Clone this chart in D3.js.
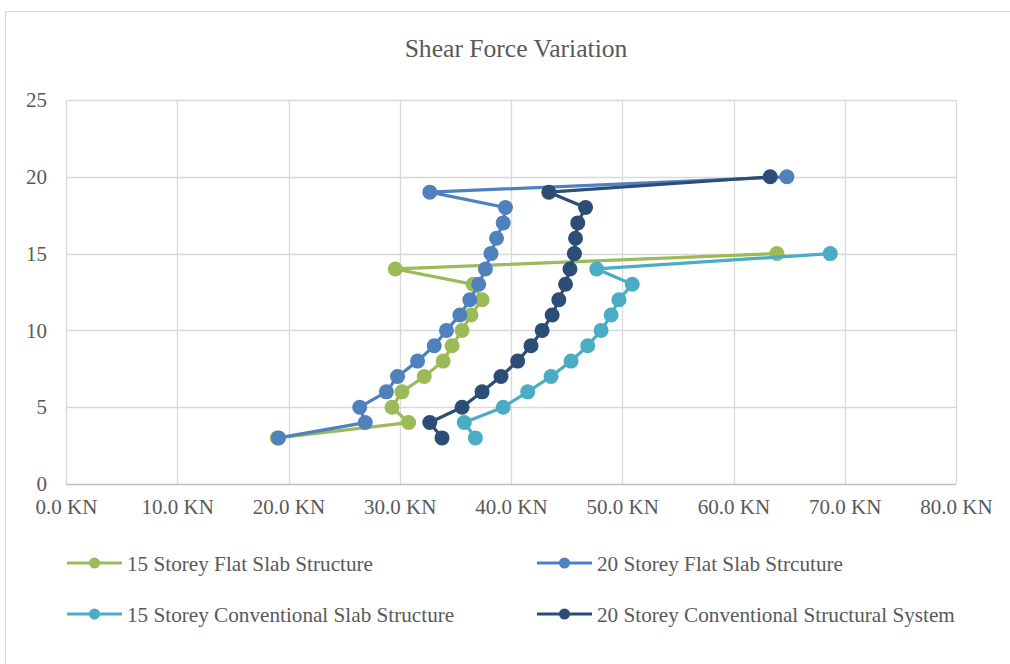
<!DOCTYPE html>
<html>
<head>
<meta charset="utf-8">
<script src="https://cdn.jsdelivr.net/npm/d3@7"></script>
<style>
  body { margin: 0; background: #fff; }
  text { font-family: "Liberation Serif", "Times New Roman", serif; fill: #595959; }
</style>
</head>
<body>
<div id="chart"></div>
<script>
// Storey levels (y values)
var storeys15 = [3, 4, 5, 6, 7, 8, 9, 10, 11, 12, 13, 14, 15];
var storeys20 = [3, 4, 5, 6, 7, 8, 9, 10, 11, 12, 13, 14, 15, 16, 17, 18, 19, 20];

// Shear force (KN) per storey
var flat15 = [19.0, 30.8, 29.3, 30.2, 32.2, 33.9, 34.7, 35.6, 36.4, 37.4, 36.6, 29.6, 63.9];
var flat20 = [19.1, 26.9, 26.4, 28.8, 29.8, 31.6, 33.1, 34.2, 35.4, 36.3, 37.1, 37.7, 38.2, 38.7, 39.3, 39.5, 32.7, 64.8];
var conv15 = [36.8, 35.8, 39.3, 41.5, 43.6, 45.4, 46.9, 48.1, 49.0, 49.7, 50.9, 47.7, 68.7];
var conv20 = [33.8, 32.7, 35.6, 37.4, 39.1, 40.6, 41.8, 42.8, 43.7, 44.3, 44.9, 45.3, 45.7, 45.8, 46.0, 46.7, 43.4, 63.3];

var seriesNames = ["15 Storey Flat Slab Structure", "20 Storey Flat Slab Strcuture",
                   "15 Storey Conventional Slab Structure", "20 Storey Conventional Structural System"];
var seriesColors = ["#9BBB59", "#4F81BD", "#4BACC6", "#2C4D75"];

var xTicks = [0, 10, 20, 30, 40, 50, 60, 70, 80];
var yTicks = [0, 5, 10, 15, 20, 25];

var svgWidth = 1010;
var svgHeight = 664;

var plot = { left: 66, right: 956, top: 100, bottom: 484 };

var svg = d3.select("#chart")
  .append("svg")
  .attr("width", svgWidth)
  .attr("height", svgHeight);

// chart border
svg.append("rect")
  .attr("x", 5.5)
  .attr("y", 11.5)
  .attr("width", 1010)
  .attr("height", 700)
  .attr("fill", "none")
  .attr("stroke", "#D9D9D9")
  .attr("stroke-width", 1);

var xScale = d3.scaleLinear().domain([0, 80]).range([plot.left, plot.right]);
var yScale = d3.scaleLinear().domain([0, 25]).range([plot.bottom, plot.top]);

// title
svg.append("text")
  .attr("x", 516)
  .attr("y", 57)
  .attr("text-anchor", "middle")
  .style("font-size", "25.6px")
  .text("Shear Force Variation");

// gridlines
var grid = svg.append("g");
grid.selectAll(".vgrid")
  .data(xTicks)
  .enter()
  .append("line")
  .attr("x1", d => Math.round(xScale(d)) + 0.5)
  .attr("x2", d => Math.round(xScale(d)) + 0.5)
  .attr("y1", plot.top)
  .attr("y2", plot.bottom)
  .attr("stroke", "#D9D9D9")
  .attr("stroke-width", 1.3);

grid.selectAll(".hgrid")
  .data(yTicks)
  .enter()
  .append("line")
  .attr("x1", plot.left)
  .attr("x2", plot.right)
  .attr("y1", d => Math.round(yScale(d)) + 0.5)
  .attr("y2", d => Math.round(yScale(d)) + 0.5)
  .attr("stroke", d => d === 0 ? "#BFBFBF" : "#D9D9D9")
  .attr("stroke-width", 1.3);

// axes labels (no domain lines)
var bottomAxis = d3.axisBottom(xScale)
  .tickValues(xTicks)
  .tickSize(0)
  .tickPadding(15)
  .tickFormat(d => d3.format(".1f")(d) + " KN");

var leftAxis = d3.axisLeft(yScale)
  .tickValues(yTicks)
  .tickSize(0)
  .tickPadding(19)
  .tickFormat(d3.format("d"));

var gx = svg.append("g")
  .attr("transform", "translate(0," + plot.bottom + ")")
  .call(bottomAxis);
gx.select(".domain").remove();
gx.selectAll("text").style("font-size", "21px").attr("fill", "#595959").style("font-family", "Liberation Serif");

var gy = svg.append("g")
  .attr("transform", "translate(" + plot.left + ",0)")
  .call(leftAxis);
gy.select(".domain").remove();
gy.selectAll("text").style("font-size", "21px").attr("fill", "#595959").style("font-family", "Liberation Serif");

// series
var seriesData = [
  storeys15.map((s, i) => ({ x: flat15[i], y: s })),
  storeys20.map((s, i) => ({ x: flat20[i], y: s })),
  storeys15.map((s, i) => ({ x: conv15[i], y: s })),
  storeys20.map((s, i) => ({ x: conv20[i], y: s }))
];

var line = d3.line()
  .x(d => xScale(d.x))
  .y(d => yScale(d.y));

seriesData.forEach(function(data, k) {
  var g = svg.append("g");
  g.append("path")
    .datum(data)
    .attr("d", line)
    .attr("fill", "none")
    .attr("stroke", seriesColors[k])
    .attr("stroke-width", 3.2)
    .attr("stroke-linejoin", "round");
  g.selectAll("circle")
    .data(data)
    .enter()
    .append("circle")
    .attr("cx", d => xScale(d.x))
    .attr("cy", d => yScale(d.y))
    .attr("r", 7.5)
    .attr("fill", seriesColors[k]);
});

// legend
var legendPos = [
  { x: 67, y: 563 },
  { x: 537, y: 563 },
  { x: 67, y: 614 },
  { x: 537, y: 614 }
];

var legend = svg.append("g");
seriesNames.forEach(function(name, k) {
  var p = legendPos[k];
  legend.append("line")
    .attr("x1", p.x)
    .attr("x2", p.x + 55)
    .attr("y1", p.y)
    .attr("y2", p.y)
    .attr("stroke", seriesColors[k])
    .attr("stroke-width", 3);
  legend.append("circle")
    .attr("cx", p.x + 27.5)
    .attr("cy", p.y)
    .attr("r", 5.5)
    .attr("fill", seriesColors[k]);
  legend.append("text")
    .attr("x", p.x + 60)
    .attr("y", p.y + 8)
    .style("font-size", "21.2px")
    .text(name);
});
</script>
</body>
</html>
